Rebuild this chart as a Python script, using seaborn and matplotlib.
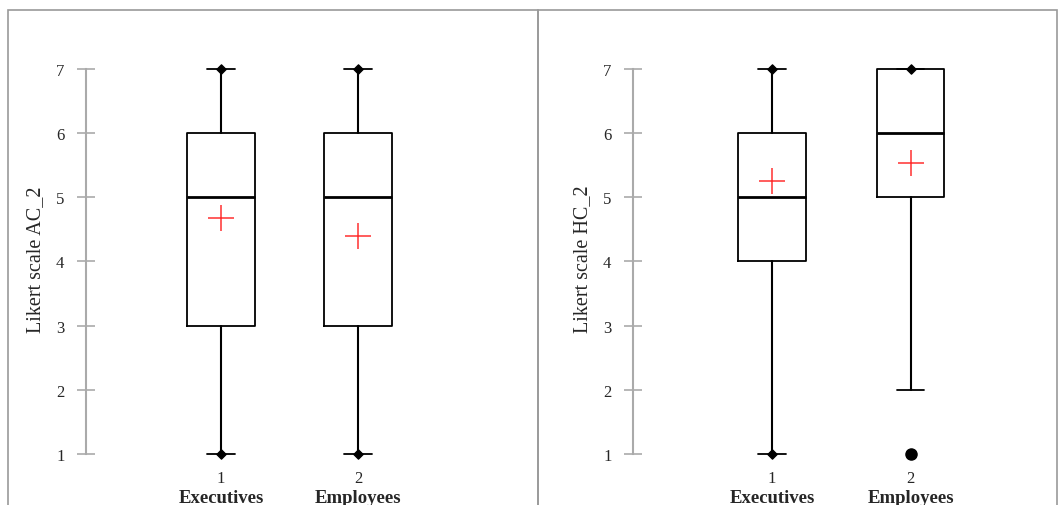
import matplotlib
matplotlib.use("Agg")
import matplotlib.pyplot as plt
import seaborn as sns
from matplotlib.patches import Rectangle

# summary statistics
groups = ["1", "2"]
group_names = ["Executives", "Employees"]

ac2_whislo = [1, 1]
ac2_q1 = [3, 3]
ac2_med = [5, 5]
ac2_q3 = [6, 6]
ac2_whishi = [7, 7]
ac2_mean = [4.68, 4.40]
ac2_ends = [[1, 7], [1, 7]]
ac2_fliers = [[], []]

hc2_whislo = [1, 2]
hc2_q1 = [4, 5]
hc2_med = [5, 6]
hc2_q3 = [6, 7]
hc2_whishi = [7, 7]
hc2_mean = [5.26, 5.54]
hc2_ends = [[1, 7], [7]]
hc2_fliers = [[], [1]]

sns.set_theme(style="white")
plt.rcParams["font.family"] = ["Liberation Serif", "DejaVu Serif"]

W, H = 1058, 506
fig = plt.figure(figsize=(W / 100, H / 100), dpi=100)

# panel frames
for x0, x1 in [(8, 538), (538, 1057)]:
    fig.add_artist(Rectangle((x0 / W, -0.1), (x1 - x0) / W, (H - 11) / H + 0.1,
                             transform=fig.transFigure, fill=False,
                             edgecolor="#9a9a9a", linewidth=1.2))


def draw(ax, whislo, q1, med, q3, whishi, mean, ends, fliers, ylabel):
    stats = []
    for i in range(len(groups)):
        stats.append(dict(whislo=whislo[i], q1=q1[i], med=med[i], q3=q3[i],
                          whishi=whishi[i], fliers=fliers[i], label=groups[i]))
    ax.bxp(stats, positions=[1, 2], widths=0.49, capwidths=0.2, showfliers=True,
           boxprops=dict(color="black", linewidth=1.3),
           medianprops=dict(color="black", linewidth=2),
           whiskerprops=dict(color="black", linewidth=1.5),
           capprops=dict(color="black", linewidth=1.3),
           flierprops=dict(marker="o", markerfacecolor="black",
                           markeredgecolor="black", markersize=8))
    for i in range(len(groups)):
        xs = [i + 1] * len(ends[i])
        ax.scatter(xs, ends[i], marker="D", s=22, color="black", zorder=4, clip_on=False)
    sns.scatterplot(x=[1, 2], y=mean, ax=ax, marker="+", s=360, color="#ff3030",
                    linewidth=1.1, zorder=5, legend=False)
    ax.set_ylim(0.8, 7.3)
    ax.set_yticks(range(1, 8))
    ax.set_xticks([1, 2])
    ax.set_xticklabels(groups, fontsize=12)
    ax.tick_params(axis="y", direction="inout", length=13, width=1.2,
                   color="#aaaaaa", labelsize=12, pad=9, left=True)
    ax.tick_params(axis="x", length=0, pad=2)
    for s in ["top", "right", "bottom"]:
        ax.spines[s].set_visible(False)
    ax.spines["left"].set_color("#aaaaaa")
    ax.spines["left"].set_linewidth(1.5)
    ax.spines["left"].set_bounds(1, 7)
    ax.set_ylabel(ylabel, fontsize=14.5, labelpad=8)
    for i, name in enumerate(group_names):
        ax.annotate(name, xy=(i + 1, 0), xycoords=("data", "axes fraction"),
                    xytext=(0, -16), textcoords="offset points", ha="center",
                    va="top", fontsize=13.5, fontweight="bold", annotation_clip=False)


y_bot = 455 + 0.2 * 64.17
y_top = 70 - 0.3 * 64.17
ax_b = (H - y_bot) / H
ax_h = (y_bot - y_top) / H

ax1 = fig.add_axes([86 / W, ax_b, 2.985 * 137 / W, ax_h])
ax1.set_xlim(0.015, 3.0)
draw(ax1, ac2_whislo, ac2_q1, ac2_med, ac2_q3, ac2_whishi, ac2_mean,
     ac2_ends, ac2_fliers, "Likert scale AC_2")

ax2 = fig.add_axes([633 / W, ax_b, 2.904 * 138.5 / W, ax_h])
ax2.set_xlim(-0.004, 2.9)
draw(ax2, hc2_whislo, hc2_q1, hc2_med, hc2_q3, hc2_whishi, hc2_mean,
     hc2_ends, hc2_fliers, "Likert scale HC_2")

fig.savefig("out.png", dpi=100)
